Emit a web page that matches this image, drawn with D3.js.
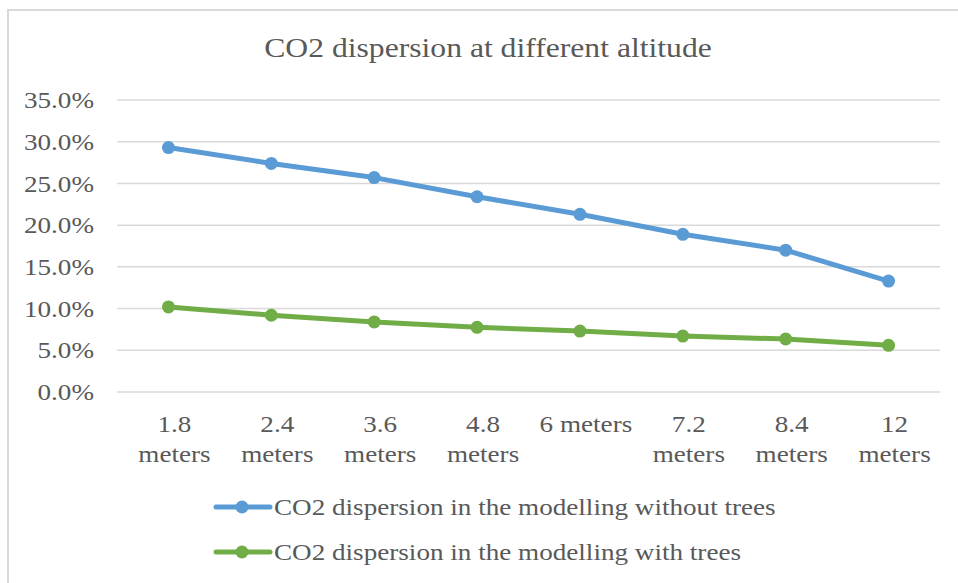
<!DOCTYPE html>
<html>
<head>
<meta charset="utf-8">
<script src="https://cdn.jsdelivr.net/npm/d3@7"></script>
<style>
  body { margin: 0; background: #fff; }
  text { font-family: "Liberation Serif", "Times New Roman", serif; fill: #595959; }
</style>
</head>
<body>
<svg width="958" height="583"></svg>
<script>
var categories = [["1.8", "meters"], ["2.4", "meters"], ["3.6", "meters"], ["4.8", "meters"],
                  ["6 meters"], ["7.2", "meters"], ["8.4", "meters"], ["12", "meters"]];
var withoutTrees = [29.3, 27.4, 25.7, 23.4, 21.3, 18.9, 17.0, 13.3];
var withTrees = [10.2, 9.2, 8.4, 7.75, 7.3, 6.7, 6.35, 5.6];
var yTicks = [0, 5, 10, 15, 20, 25, 30, 35];
var seriesNames = ["CO2 dispersion in the modelling without trees",
                   "CO2 dispersion in the modelling with trees"];
var colors = ["#5B9BD5", "#70AD47"];

var stretch = 1.13; // the source text is a bit wider than Times

var svg = d3.select("svg");

// chart frame (runs off the right and bottom edge)
svg.append("rect")
    .attr("x", 8).attr("y", 10)
    .attr("width", 960).attr("height", 590)
    .attr("fill", "#fff")
    .attr("stroke", "#d9d9d9")
    .attr("stroke-width", 2);

svg.append("text")
    .attr("x", 488).attr("y", 57)
    .attr("text-anchor", "middle")
    .style("font-size", "28px")
    .text("CO2 dispersion at different altitude");

var margin = {left: 117, right: 18, top: 100, bottom: 191},
    width = 958 - margin.left - margin.right,
    height = 583 - margin.top - margin.bottom;

var g = svg.append("g")
    .attr("transform", "translate(" + margin.left + "," + margin.top + ")");

var x = d3.scaleBand()
    .domain(d3.range(categories.length))
    .range([0, width]);

var y = d3.scaleLinear()
    .domain([0, 35])
    .range([height, 0]);

// gridlines
g.selectAll(".grid")
    .data(yTicks)
  .enter().append("line")
    .attr("x1", 0).attr("x2", width)
    .attr("y1", function(d) { return y(d); })
    .attr("y2", function(d) { return y(d); })
    .attr("stroke", "#d9d9d9")
    .attr("stroke-width", 1.5);

var yAxis = g.append("g")
    .call(d3.axisLeft(y).tickValues(yTicks).tickSize(0).tickPadding(23)
      .tickFormat(function(d) { return d.toFixed(1) + "%"; }));
yAxis.select(".domain").remove();
yAxis.selectAll("text")
    .attr("fill", "#595959")
    .style("font-family", "Liberation Serif, serif")
    .style("font-size", "24px");

// category labels
var xl = g.append("g").attr("transform", "translate(0," + height + ")");
categories.forEach(function(lines, i) {
  var t = xl.append("text")
      .attr("text-anchor", "middle")
      .style("font-size", "24px");
  lines.forEach(function(s, j) {
    t.append("tspan")
        .attr("x", x(i) + x.bandwidth() / 2 + 6)
        .attr("y", 40 + j * 30)
        .text(s);
  });
});

var line = d3.line()
    .x(function(d, i) { return x(i) + x.bandwidth() / 2; })
    .y(function(d) { return y(d); });

[withoutTrees, withTrees].forEach(function(vals, k) {
  g.append("path")
      .attr("fill", "none")
      .attr("stroke", colors[k])
      .attr("stroke-width", 5)
      .attr("stroke-linejoin", "round")
      .attr("stroke-linecap", "round")
      .attr("d", line(vals));
  g.selectAll(".pt" + k)
      .data(vals)
    .enter().append("circle")
      .attr("cx", function(d, i) { return x(i) + x.bandwidth() / 2; })
      .attr("cy", function(d) { return y(d); })
      .attr("r", 6.5)
      .attr("fill", colors[k]);
});

// legend
var legend = svg.append("g");
seriesNames.forEach(function(name, k) {
  var ly = 507 + k * 45;
  legend.append("line")
      .attr("x1", 216).attr("x2", 270)
      .attr("y1", ly).attr("y2", ly)
      .attr("stroke", colors[k])
      .attr("stroke-width", 5)
      .attr("stroke-linecap", "round");
  legend.append("circle")
      .attr("cx", 242).attr("cy", ly).attr("r", 6.5)
      .attr("fill", colors[k]);
  legend.append("text")
      .attr("x", 274).attr("y", ly + 8)
      .style("font-size", "24px")
      .text(name);
});

// widen every line of text a little
svg.selectAll("text").each(function() {
  var el = d3.select(this);
  var parts = el.selectAll("tspan");
  (parts.empty() ? el : parts).each(function() {
    var w = this.getComputedTextLength();
    d3.select(this)
        .attr("textLength", w * stretch)
        .attr("lengthAdjust", "spacingAndGlyphs");
  });
});
</script>
</body>
</html>
